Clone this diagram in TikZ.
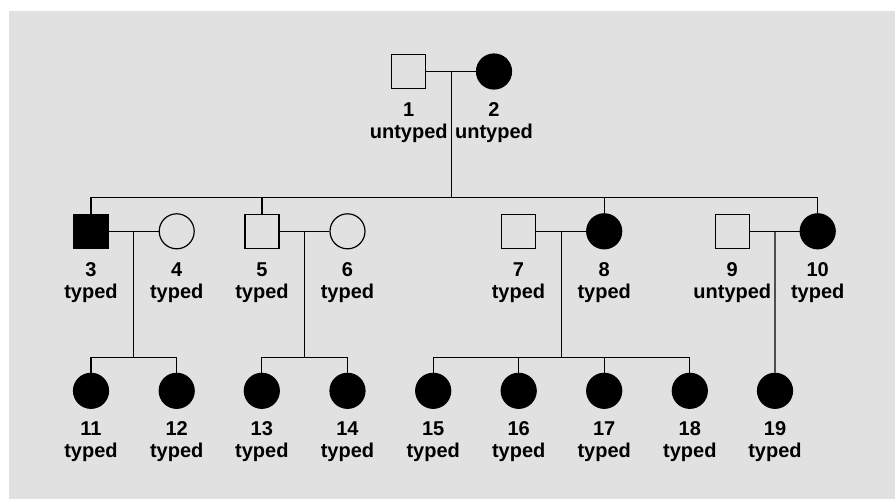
\documentclass[tikz,border=0pt]{standalone}
\usepackage{fontspec}
\setmainfont{Liberation Sans}
\usepackage{xcolor}
\usepackage{tikz}
\usetikzlibrary{calc}
\definecolor{panelgray}{RGB}{225,225,225}

\begin{document}
\begin{tikzpicture}[x=0.5pt,y=-0.5pt,
  male/.style={draw,line width=0.6pt,rectangle,minimum size=17pt,inner sep=0pt},
  female/.style={draw,line width=0.6pt,circle,minimum size=17.5pt,inner sep=0pt},
  affected/.style={fill=black},
  idtext/.style={font=\bfseries,anchor=base,inner sep=0pt},
  link/.style={line width=0.6pt}]
% Background panel
\useasboundingbox (0,0) rectangle (895,499);
\fill[panelgray] (9,11) rectangle (895,499);
% Generation I
\node[male] (p1) at (408.7,71.5) {};
\node[female,affected] (p2) at (494,71.5) {};
% Generation II
\node[male,affected] (p3) at (91,231.3) {};
\node[female] (p4) at (176.7,231.3) {};
\node[male] (p5) at (262,231.3) {};
\node[female] (p6) at (347.5,231.3) {};
\node[male] (p7) at (518.5,231.3) {};
\node[female,affected] (p8) at (604.2,231.3) {};
\node[male] (p9) at (732.3,231.3) {};
\node[female,affected] (p10) at (817.7,231.3) {};
% Generation III
\node[female,affected] (p11) at (91,390.8) {};
\node[female,affected] (p12) at (176.7,390.8) {};
\node[female,affected] (p13) at (261.8,390.8) {};
\node[female,affected] (p14) at (347.5,390.8) {};
\node[female,affected] (p15) at (433.2,390.8) {};
\node[female,affected] (p16) at (518.7,390.8) {};
\node[female,affected] (p17) at (604.2,390.8) {};
\node[female,affected] (p18) at (689.8,390.8) {};
\node[female,affected] (p19) at (775,390.8) {};
% Labels
\foreach \id/\st in {1/untyped,2/untyped,3/typed,4/typed,5/typed,6/typed,
  7/typed,8/typed,9/untyped,10/typed,11/typed,12/typed,13/typed,14/typed,
  15/typed,16/typed,17/typed,18/typed,19/typed}{
  \node[idtext] (n\id) at ($(p\id)+(0,45)$) {\id};
  \node[idtext] (t\id) at ($(p\id)+(0,67)$) {\st};
}
% Mating and sibship lines
\coordinate (m12) at ($(p1)!0.5!(p2)$);
\coordinate (s12) at ($(m12)+(0,126)$);
\draw[link] (p1.east) -- (p2.west);
\draw[link] (m12) -- (s12);
\draw[link] (p3.north) |- (s12) -| (p10.north);
\draw[link] (p5.north) -- (p5.north |- s12);
\draw[link] (p8.north) -- (p8.north |- s12);
% 3 x 4
\coordinate (m34) at ($(p3)!0.5!(p4)$);
\coordinate (s34) at ($(m34)+(0,126)$);
\draw[link] (p3.east) -- (p4.west);
\draw[link] (m34) -- (s34);
\draw[link] (p11.north) |- (s34) -| (p12.north);
% 5 x 6
\coordinate (m56) at ($(p5)!0.5!(p6)$);
\coordinate (s56) at ($(m56)+(0,126)$);
\draw[link] (p5.east) -- (p6.west);
\draw[link] (m56) -- (s56);
\draw[link] (p13.north) |- (s56) -| (p14.north);
% 7 x 8
\coordinate (m78) at ($(p7)!0.5!(p8)$);
\coordinate (s78) at ($(m78)+(0,126)$);
\draw[link] (p7.east) -- (p8.west);
\draw[link] (m78) -- (s78);
\draw[link] (p15.north) |- (s78) -| (p18.north);
\draw[link] (p16.north) -- (p16.north |- s78);
\draw[link] (p17.north) -- (p17.north |- s78);
% 9 x 10
\coordinate (m910) at ($(p9)!0.5!(p10)$);
\draw[link] (p9.east) -- (p10.west);
\draw[link] (m910) -- (p19.north);
\end{tikzpicture}
\end{document}
